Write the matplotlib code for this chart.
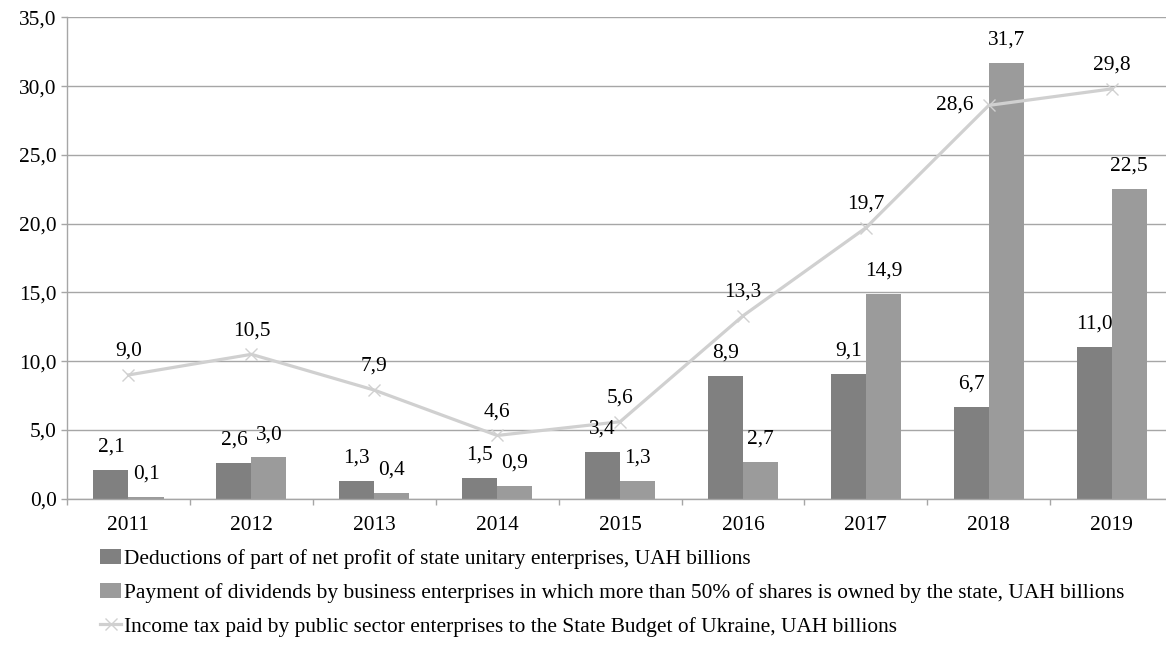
import matplotlib
matplotlib.use("Agg")
import matplotlib.pyplot as plt
from matplotlib.ticker import FixedLocator, FuncFormatter
import numpy as np

plt.rcParams['font.family'] = ['Liberation Serif', 'DejaVu Serif']
plt.rcParams['font.size'] = 15.4

years = ['2011', '2012', '2013', '2014', '2015', '2016', '2017', '2018', '2019']
deductions = [2.1, 2.6, 1.3, 1.5, 3.4, 8.9, 9.1, 6.7, 11.0]
dividends = [0.1, 3.0, 0.4, 0.9, 1.3, 2.7, 14.9, 31.7, 22.5]
income_tax = [9.0, 10.5, 7.9, 4.6, 5.6, 13.3, 19.7, 28.6, 29.8]

labels = [
    'Deductions of part of net profit of state unitary enterprises, UAH billions',
    'Payment of dividends by business enterprises in which more than 50% of shares is owned by the state, UAH billions',
    'Income tax paid by public sector enterprises to the State Budget of Ukraine, UAH billions',
]

c_dark = '#808080'
c_light = '#9b9b9b'
c_line = '#d0d0d0'
c_grid = '#a6a6a6'


def comma(v):
    return f'{v:.1f}'.replace('.', ',')


fig = plt.figure(figsize=(11.66, 6.68), dpi=100)
ax = fig.add_axes([0.0575, 0.2534, 0.9486, 0.7206])

x = np.arange(len(years))
w = 0.285
b1 = ax.bar(x - w / 2, deductions, w, color=c_dark, label=labels[0], zorder=2)
b2 = ax.bar(x + w / 2, dividends, w, color=c_light, label=labels[1], zorder=2)
ln, = ax.plot(x, income_tax, color=c_line, lw=2.3, marker='x', ms=9,
              mew=1.0, mec=c_line, label=labels[2], zorder=3)

# value labels
for bars, vals in ((b1, deductions), (b2, dividends)):
    for r, v in zip(bars, vals):
        ax.annotate(comma(v), (r.get_x() + r.get_width() / 2, v),
                    xytext=(0, 16.5), textcoords='offset points',
                    ha='center', va='center', zorder=4)
for i, v in enumerate(income_tax):
    if years[i] == '2018':
        ax.annotate(comma(v), (i, v), xytext=(-11, 0), textcoords='offset points',
                    ha='right', va='center', zorder=4)
    else:
        ax.annotate(comma(v), (i, v), xytext=(0, 17), textcoords='offset points',
                    ha='center', va='center', zorder=4)

ax.set_xlim(-0.5, len(years) - 0.5)
ax.set_ylim(0, 35)
ax.set_yticks(np.arange(0, 35.1, 5))
ax.yaxis.set_major_formatter(FuncFormatter(lambda v, p: comma(v)))
ax.yaxis.grid(True, color=c_grid, lw=1)
ax.set_axisbelow(True)

# category boundary ticks, labels centred on the categories
ax.xaxis.set_major_locator(FixedLocator(np.arange(-0.5, len(years), 1.0)))
ax.xaxis.set_major_formatter(FuncFormatter(lambda v, p: ''))
ax.xaxis.set_minor_locator(FixedLocator(x))
ax.set_xticklabels(years, minor=True)
ax.tick_params(axis='x', which='major', length=4.5, color=c_grid, width=1)
ax.tick_params(axis='x', which='minor', length=0, pad=12.5)
ax.tick_params(axis='y', length=4.5, color=c_grid, width=1, pad=3)

for s in ('top', 'right'):
    ax.spines[s].set_visible(False)
for s in ('left', 'bottom'):
    ax.spines[s].set_color(c_grid)
    ax.spines[s].set_linewidth(1)

fig.legend(handles=[b1, b2, ln], labels=labels, loc='upper left',
           bbox_to_anchor=(0.0858, 0.178), frameon=False, handlelength=1.0,
           handletextpad=0.1, labelspacing=0.65, borderaxespad=0, borderpad=0)

fig.savefig('out.png', dpi=100)
